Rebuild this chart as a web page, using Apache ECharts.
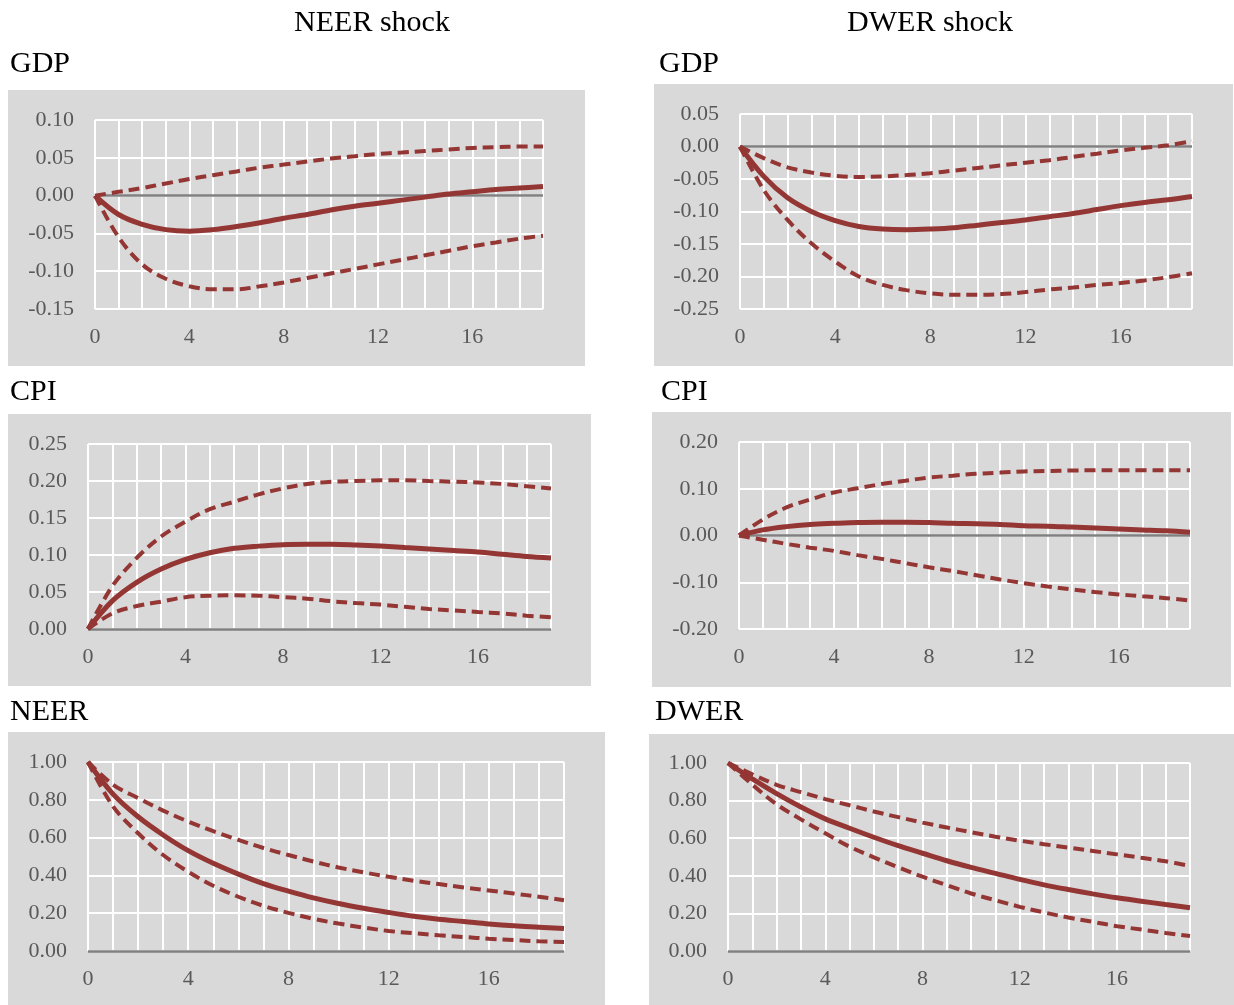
<!DOCTYPE html>
<html>
<head>
<meta charset="utf-8">
<script src="https://cdn.jsdelivr.net/npm/echarts/dist/echarts.min.js"></script>
<style>
  html, body { margin: 0; padding: 0; background: #ffffff; }
  #chart { width: 1234px; height: 1005px; }
</style>
</head>
<body>
<div id="chart"></div>
<script>
// Impulse-response horizons (quarters)
const horizon = [0, 1, 2, 3, 4, 5, 6, 7, 8, 9, 10, 11, 12, 13, 14, 15, 16, 17, 18, 19];
const xTickLabels = ['0', '4', '8', '12', '16'];

// Column headers and row labels
const shockTitles = ['NEER shock', 'DWER shock'];
const rowLabels = [['GDP', 'GDP'], ['CPI', 'CPI'], ['NEER', 'DWER']];

// GDP response to a NEER shock
const gdpNeerMid   = [0, -0.025, -0.038, -0.045, -0.047, -0.045, -0.041, -0.036, -0.030, -0.025, -0.019, -0.014, -0.010, -0.006, -0.002, 0.002, 0.005, 0.008, 0.010, 0.012];
const gdpNeerUpper = [0, 0.005, 0.010, 0.016, 0.022, 0.027, 0.032, 0.037, 0.041, 0.045, 0.049, 0.052, 0.055, 0.057, 0.059, 0.061, 0.063, 0.064, 0.065, 0.065];
const gdpNeerLower = [0, -0.055, -0.091, -0.110, -0.120, -0.124, -0.124, -0.120, -0.115, -0.109, -0.103, -0.097, -0.091, -0.085, -0.079, -0.073, -0.067, -0.062, -0.057, -0.053];

// GDP response to a DWER shock
const gdpDwerMid   = [0, -0.046, -0.079, -0.100, -0.114, -0.123, -0.127, -0.128, -0.127, -0.125, -0.121, -0.117, -0.113, -0.108, -0.103, -0.097, -0.091, -0.086, -0.082, -0.077];
const gdpDwerUpper = [0, -0.018, -0.032, -0.040, -0.045, -0.047, -0.046, -0.044, -0.041, -0.037, -0.033, -0.029, -0.025, -0.021, -0.016, -0.011, -0.006, -0.002, 0.002, 0.008];
const gdpDwerLower = [0, -0.067, -0.113, -0.149, -0.177, -0.200, -0.213, -0.221, -0.226, -0.228, -0.228, -0.227, -0.224, -0.220, -0.217, -0.213, -0.210, -0.206, -0.201, -0.195];

// CPI response to a NEER shock
const cpiNeerMid   = [0, 0.038, 0.063, 0.081, 0.094, 0.103, 0.109, 0.112, 0.114, 0.1145, 0.1145, 0.1135, 0.112, 0.110, 0.108, 0.106, 0.104, 0.101, 0.098, 0.096];
const cpiNeerUpper = [0, 0.058, 0.096, 0.125, 0.145, 0.162, 0.172, 0.182, 0.190, 0.196, 0.199, 0.200, 0.201, 0.201, 0.200, 0.199, 0.198, 0.196, 0.193, 0.190];
const cpiNeerLower = [0, 0.021, 0.031, 0.037, 0.043, 0.045, 0.0455, 0.045, 0.043, 0.041, 0.0375, 0.035, 0.033, 0.030, 0.027, 0.025, 0.023, 0.021, 0.018, 0.016];

// CPI response to a DWER shock
const cpiDwerMid   = [0, 0.012, 0.019, 0.0235, 0.026, 0.028, 0.0285, 0.0285, 0.028, 0.026, 0.025, 0.0235, 0.021, 0.020, 0.018, 0.016, 0.014, 0.012, 0.010, 0.007];
const cpiDwerUpper = [0, 0.034, 0.060, 0.077, 0.092, 0.101, 0.110, 0.117, 0.124, 0.128, 0.132, 0.1345, 0.137, 0.138, 0.139, 0.1395, 0.1395, 0.1395, 0.1395, 0.1395];
const cpiDwerLower = [0, -0.009, -0.018, -0.026, -0.033, -0.042, -0.050, -0.059, -0.068, -0.076, -0.085, -0.094, -0.102, -0.109, -0.115, -0.121, -0.126, -0.130, -0.134, -0.139];

// NEER response to its own shock
const neerMid   = [1.0, 0.830, 0.710, 0.614, 0.531, 0.464, 0.407, 0.357, 0.317, 0.281, 0.251, 0.226, 0.204, 0.184, 0.168, 0.156, 0.143, 0.133, 0.126, 0.119];
const neerUpper = [1.0, 0.880, 0.809, 0.743, 0.685, 0.634, 0.588, 0.545, 0.508, 0.473, 0.442, 0.416, 0.393, 0.372, 0.354, 0.336, 0.320, 0.304, 0.287, 0.269];
const neerLower = [1.0, 0.765, 0.623, 0.508, 0.419, 0.345, 0.287, 0.239, 0.202, 0.170, 0.145, 0.124, 0.106, 0.094, 0.083, 0.074, 0.065, 0.058, 0.051, 0.048];

// DWER response to its own shock
const dwerMid   = [1.0, 0.915, 0.837, 0.766, 0.703, 0.653, 0.605, 0.560, 0.520, 0.480, 0.445, 0.413, 0.381, 0.352, 0.327, 0.304, 0.283, 0.265, 0.247, 0.230];
const dwerUpper = [1.0, 0.940, 0.884, 0.845, 0.808, 0.775, 0.742, 0.712, 0.683, 0.657, 0.632, 0.608, 0.587, 0.568, 0.550, 0.532, 0.514, 0.496, 0.477, 0.452];
const dwerLower = [1.0, 0.885, 0.780, 0.700, 0.626, 0.555, 0.498, 0.445, 0.395, 0.350, 0.306, 0.270, 0.235, 0.205, 0.178, 0.155, 0.132, 0.114, 0.096, 0.080];

// Y-axis ranges per panel: [min, max, interval]
const yRanges = [
  [-0.15, 0.10, 0.05], [-0.25, 0.05, 0.05],
  [0, 0.25, 0.05],     [-0.20, 0.20, 0.10],
  [0, 1.0, 0.2],       [0, 1.0, 0.2]
];

const panelSeries = [
  [gdpNeerMid, gdpNeerUpper, gdpNeerLower],
  [gdpDwerMid, gdpDwerUpper, gdpDwerLower],
  [cpiNeerMid, cpiNeerUpper, cpiNeerLower],
  [cpiDwerMid, cpiDwerUpper, cpiDwerLower],
  [neerMid, neerUpper, neerLower],
  [dwerMid, dwerUpper, dwerLower]
];

// Panel geometry: grey backdrop and plot area, in pixels
const layout = [
  { bg: [8, 90, 577, 276],   plot: [95, 120, 448, 189] },
  { bg: [654, 84, 579, 282], plot: [740, 114, 452, 195] },
  { bg: [8, 414, 583, 272],  plot: [88, 444, 463, 185] },
  { bg: [652, 412, 579, 275], plot: [739, 442, 451, 187] },
  { bg: [8, 732, 597, 273],  plot: [88, 762, 476, 189] },
  { bg: [649, 734, 585, 271], plot: [728, 763, 462, 188] }
];

const FONT = '"Liberation Serif", "Times New Roman", serif';
const LINE = '#943634';
const PANEL = '#d9d9d9';

const chart = echarts.init(document.getElementById('chart'), null, { renderer: 'canvas' });

const grids = [], xAxes = [], yAxes = [], series = [], graphics = [];

layout.forEach((p, i) => {
  graphics.push({
    type: 'rect', z: -10, silent: true,
    shape: { x: p.bg[0], y: p.bg[1], width: p.bg[2], height: p.bg[3] },
    style: { fill: PANEL }
  });
  grids.push({ left: p.plot[0], top: p.plot[1], width: p.plot[2], height: p.plot[3], containLabel: false });
  xAxes.push({
    type: 'value', gridIndex: i, min: horizon[0], max: horizon[horizon.length - 1], interval: 1,
    axisLine: { show: false }, axisTick: { show: false },
    axisLabel: {
      margin: 17, color: '#595959', fontFamily: FONT, fontSize: 22,
      formatter: v => (xTickLabels.indexOf(String(v)) >= 0 ? String(v) : '')
    },
    splitLine: { show: true, lineStyle: { color: '#ffffff', width: 2 } }
  });
  const r = yRanges[i];
  yAxes.push({
    type: 'value', gridIndex: i, min: r[0], max: r[1], interval: r[2],
    axisLine: { show: false }, axisTick: { show: false },
    axisLabel: {
      margin: 21, color: '#595959', fontFamily: FONT, fontSize: 22,
      formatter: v => v.toFixed(2)
    },
    splitLine: { show: true, lineStyle: { color: '#ffffff', width: 2 } }
  });

  const [mid, upper, lower] = panelSeries[i];
  const toPts = arr => horizon.map((h, k) => [h, arr[k]]);
  [upper, lower].forEach(band => {
    series.push({
      type: 'line', xAxisIndex: i, yAxisIndex: i, data: toPts(band),
      smooth: 0.35, symbol: 'none', silent: true, z: 3,
      lineStyle: { color: LINE, width: 4, type: [11, 6], cap: 'butt' }
    });
  });
  series.push({
    type: 'line', xAxisIndex: i, yAxisIndex: i, data: toPts(mid),
    smooth: 0.35, symbol: 'none', silent: true, z: 4,
    lineStyle: { color: LINE, width: 5 },
    markLine: {
      silent: true, symbol: ['none', 'none'], label: { show: false }, z: 2,
      lineStyle: { color: '#808080', width: 2.5, type: 'solid' },
      data: [{ yAxis: 0 }]
    }
  });
});

// Column headers
[372, 930].forEach((cx, c) => {
  graphics.push({
    type: 'text', x: cx, y: 23,
    style: { text: shockTitles[c], fill: '#000000', font: '30px ' + FONT, textAlign: 'center', textVerticalAlign: 'middle' }
  });
});

// Row labels
const labelPos = [[10, 64], [659, 64], [10, 392], [661, 392], [10, 712], [655, 712]];
labelPos.forEach((pos, i) => {
  const row = Math.floor(i / 2), col = i % 2;
  graphics.push({
    type: 'text', x: pos[0], y: pos[1],
    style: { text: rowLabels[row][col], fill: '#000000', font: '30px ' + FONT, textAlign: 'left', textVerticalAlign: 'middle' }
  });
});

chart.setOption({
  animation: false,
  backgroundColor: '#ffffff',
  grid: grids,
  xAxis: xAxes,
  yAxis: yAxes,
  series: series,
  graphic: graphics
});
</script>
</body>
</html>
